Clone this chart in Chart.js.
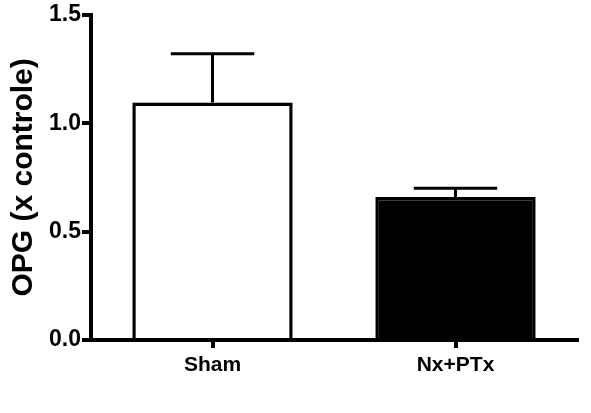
<!DOCTYPE html>
<html>
<head>
<meta charset="utf-8">
<script src="https://cdn.jsdelivr.net/npm/chart.js@4"></script>
<style>
  html, body { margin: 0; padding: 0; background: #fff; }
  #wrap { width: 591px; height: 413px; }
</style>
</head>
<body>
<div id="wrap"><canvas id="opgChart" width="591" height="413"></canvas></div>
<script>
// data
const groups = ['Sham', 'Nx+PTx'];
const means = [1.095, 0.66];
const sems = [0.225, 0.04];
const fills = ['#ffffff', '#000000'];
const yTicks = [0, 0.5, 1.0, 1.5];

const FONT = '"Liberation Sans", Arial, Helvetica, sans-serif';

// error bars only drawn upwards, like the original
const errorBars = {
  id: 'errorBars',
  afterDatasetsDraw(chart) {
    const ctx = chart.ctx;
    const y = chart.scales.y;
    const meta = chart.getDatasetMeta(0);
    ctx.save();
    ctx.strokeStyle = '#000';
    ctx.lineWidth = 3;
    meta.data.forEach((bar, i) => {
      const top = y.getPixelForValue(means[i] + sems[i]);
      const cap = bar.width * 0.26;
      ctx.beginPath();
      ctx.moveTo(bar.x, bar.y);
      ctx.lineTo(bar.x, top);
      ctx.moveTo(bar.x - cap, top);
      ctx.lineTo(bar.x + cap, top);
      ctx.stroke();
    });
    ctx.restore();
  }
};

const ctx = document.getElementById('opgChart').getContext('2d');
new Chart(ctx, {
  type: 'bar',
  data: {
    labels: groups,
    datasets: [{
      data: means,
      backgroundColor: fills,
      borderColor: '#000',
      borderWidth: 3.5,
      borderSkipped: 'bottom',
      categoryPercentage: 1,
      barPercentage: 0.66
    }]
  },
  options: {
    responsive: false,
    animation: false,
    layout: { padding: { top: 2, right: 14, left: 0, bottom: 0 } },
    plugins: { legend: { display: false }, tooltip: { enabled: false } },
    scales: {
      x: {
        grid: { offset: false, drawOnChartArea: false, drawTicks: true, tickLength: 8, color: '#000', lineWidth: 4 },
        border: { display: true, color: '#000', width: 4 },
        ticks: { color: '#000', padding: 5, font: { family: FONT, size: 21, weight: 'bold' } },
        afterFit(scale) { scale.height = 73; }
      },
      y: {
        min: 0,
        max: 1.5,
        afterBuildTicks(scale) { scale.ticks = yTicks.map(v => ({ value: v })); },
        grid: { drawOnChartArea: false, drawTicks: true, tickLength: 9, color: '#000', lineWidth: 4 },
        border: { display: true, color: '#000', width: 4 },
        ticks: {
          color: '#000',
          padding: 1,
          font: { family: FONT, size: 23, weight: 'bold' },
          callback: v => v.toFixed(1)
        },
        title: {
          display: true,
          text: 'OPG (x controle)',
          color: '#000',
          padding: { top: 6, bottom: 0 },
          font: { family: FONT, size: 30, weight: 'bold' }
        },
        afterFit(scale) { scale.width = 91; }
      }
    }
  },
  plugins: [errorBars]
});
</script>
</body>
</html>
